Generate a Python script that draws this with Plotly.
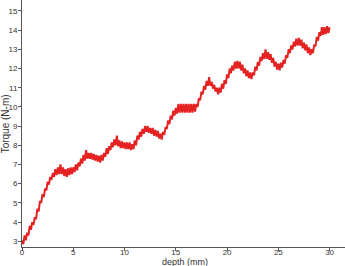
import plotly.graph_objects as go

# depth samples (mm), 0.125 mm spacing
depth = [i * 0.125 for i in range(241)]

# torque (N-m), including the visible ripple
torque = [
    3.05, 2.85, 3.3, 3.05, 3.45, 3.3, 3.8, 3.6, 4.0, 3.85,
    4.25, 4.15, 4.7, 4.55, 5.1, 5.0, 5.45, 5.3, 5.75, 5.65,
    6.1, 5.95, 6.35, 6.2, 6.55, 6.35, 6.75, 6.45, 6.85, 6.5,
    7.0, 6.5, 6.85, 6.4, 6.75, 6.35, 6.8, 6.45, 6.85, 6.5,
    6.85, 6.6, 7.0, 6.7, 7.1, 6.9, 7.3, 7.05, 7.5, 7.2,
    7.75, 7.3, 7.6, 7.3, 7.6, 7.25, 7.55, 7.2, 7.5, 7.15,
    7.45, 7.1, 7.5, 7.2, 7.6, 7.4, 7.85, 7.55, 7.95, 7.75,
    8.15, 7.9, 8.3, 8.0, 8.5, 7.95, 8.25, 7.85, 8.2, 7.85,
    8.15, 7.8, 8.15, 7.8, 8.15, 7.75, 8.05, 7.8, 8.25, 8.0,
    8.5, 8.3, 8.7, 8.45, 8.85, 8.6, 9.0, 8.7, 9.0, 8.65,
    8.9, 8.6, 8.9, 8.5, 8.8, 8.45, 8.75, 8.35, 8.6, 8.3,
    8.7, 8.55, 8.95, 8.85, 9.3, 9.1, 9.55, 9.35, 9.8, 9.55,
    9.95, 9.65, 10.15, 9.7, 10.15, 9.7, 10.15, 9.7, 10.15, 9.7,
    10.15, 9.7, 10.15, 9.7, 10.15, 9.75, 10.15, 10.0, 10.45, 10.35,
    10.8, 10.65, 11.1, 10.9, 11.35, 11.1, 11.55, 11.1, 11.3, 10.95,
    11.15, 10.8, 11.0, 10.65, 11.0, 10.75, 11.2, 10.95, 11.4, 11.2,
    11.7, 11.5, 12.0, 11.75, 12.15, 11.9, 12.35, 12.0, 12.4, 12.0,
    12.35, 11.9, 12.2, 11.75, 12.0, 11.6, 11.9, 11.5, 11.8, 11.45,
    11.8, 11.65, 12.1, 11.9, 12.35, 12.15, 12.6, 12.4, 12.8, 12.5,
    13.0, 12.5, 12.85, 12.45, 12.75, 12.3, 12.55, 12.1, 12.35, 11.95,
    12.25, 11.9, 12.3, 12.05, 12.45, 12.25, 12.7, 12.55, 13.0, 12.8,
    13.2, 13.0, 13.4, 13.15, 13.55, 13.2, 13.6, 13.2, 13.5, 13.05,
    13.35, 12.95, 13.25, 12.8, 13.1, 12.7, 13.0, 12.8, 13.25, 13.15,
    13.65, 13.45, 13.9, 13.7, 14.15, 13.75, 14.15, 13.8, 14.2, 13.85,
    14.15,
]

x_ticks = [0, 5, 10, 15, 20, 25, 30]
y_ticks = [3, 4, 5, 6, 7, 8, 9, 10, 11, 12, 13, 14, 15]

font = dict(family="Liberation Sans, Arial, sans-serif", size=8, color="#333333")
y_title_font = dict(family="Liberation Sans, Arial, sans-serif", size=10, color="#333333")
x_title_font = dict(family="Liberation Sans, Arial, sans-serif", size=9, color="#333333")

fig = go.Figure()
fig.add_trace(go.Scatter(
    x=depth, y=torque, mode="lines",
    line=dict(color="#e52222", width=2),
    hoverinfo="skip", showlegend=False,
))

fig.update_layout(
    width=345, height=266,
    margin=dict(l=22, r=0, t=0, b=19),
    paper_bgcolor="white", plot_bgcolor="white",
    font=font,
    xaxis=dict(
        range=[0, 31.5], tickvals=x_ticks, showgrid=False, zeroline=False,
        showline=True, linecolor="#555555", linewidth=1,
        ticks="outside", ticklen=3, tickcolor="#555555", tickfont=font,
        ticklabelstandoff=-6,
    ),
    yaxis=dict(
        range=[2.7, 15.57], tickvals=y_ticks, showgrid=False, zeroline=False,
        showline=True, linecolor="#555555", linewidth=1,
        ticks="outside", ticklen=3, tickcolor="#555555", tickfont=font,
        ticklabelstandoff=-1,
    ),
    annotations=[
        dict(text="depth (mm)", xref="paper", yref="paper", x=0.505, y=-0.085,
             xanchor="center", yanchor="bottom", showarrow=False, font=x_title_font,
             borderpad=0),
        dict(text="Torque (N-m)", xref="paper", yref="paper", x=-0.05, y=0.5,
             xanchor="center", yanchor="middle", textangle=-90, showarrow=False,
             font=y_title_font, borderpad=0),
    ],
)

fig.write_html("out.html")
